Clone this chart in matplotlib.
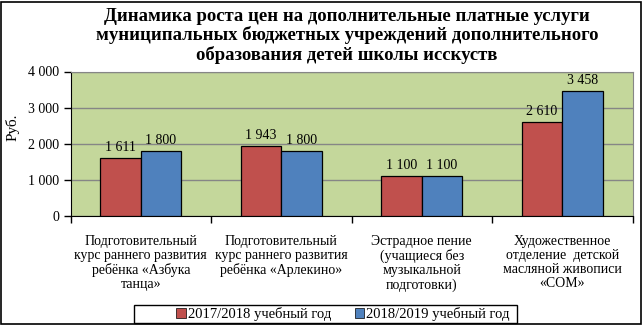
import matplotlib
matplotlib.use("Agg")
import matplotlib.pyplot as plt
from matplotlib.patches import Rectangle
import numpy as np

categories = [
    "Подготовительный\nкурс раннего развития\nребёнка «Азбука\nтанца»",
    "Подготовительный\nкурс раннего развития\nребёнка «Арлекино»",
    "Эстрадное пение\n(учащиеся без\nмузыкальной\nподготовки)",
    "Художественное\nотделение  детской\nмасляной живописи\n«СОМ»",
]
series_names = ["2017/2018 учебный год", "2018/2019 учебный год"]
values_2017 = [1611, 1943, 1100, 2610]
values_2018 = [1800, 1800, 1100, 3458]
y_ticks = [0, 1000, 2000, 3000, 4000]
y_tick_labels = ["0", "1 000", "2 000", "3 000", "4 000"]
title = ("Динамика роста цен на дополнительные платные услуги\n"
         "муниципальных бюджетных учреждений дополнительного\n"
         "образования детей школы исскуств")

plt.rcParams["font.family"] = ["Liberation Serif", "DejaVu Serif"]

W, H = 643, 325
fig = plt.figure(figsize=(W / 100, H / 100), dpi=100)
fig.patch.set_facecolor("white")

# outer frame of the chart
fig.add_artist(Rectangle((1 / W, 1 / H), (W - 3) / W, (H - 3) / H,
                         transform=fig.transFigure, fill=False,
                         edgecolor="black", linewidth=1.2))

ax = fig.add_axes([70.5 / W, 1 - 216 / H, (632.5 - 70.5) / W, (216 - 71.5) / H])
ax.set_facecolor("#C4D79B")

x = np.arange(len(categories))
bw = 0.288
ax.bar(x - bw / 2, values_2017, bw, color="#C0504D", edgecolor="black",
       linewidth=0.9, label=series_names[0], zorder=3)
ax.bar(x + bw / 2, values_2018, bw, color="#4F81BD", edgecolor="black",
       linewidth=0.9, label=series_names[1], zorder=3)

def fmt(v):
    return f"{v:,}".replace(",", " ")

for offs, vals in ((-bw / 2, values_2017), (bw / 2, values_2018)):
    for xi, v in zip(x + offs, vals):
        ax.annotate(fmt(v), (xi, v), xytext=(0, 3), textcoords="offset points",
                    ha="center", va="bottom", fontsize=10)

ax.set_xlim(-0.5, len(categories) - 0.5)
ax.set_ylim(0, 4000)
ax.set_yticks(y_ticks)
ax.set_yticklabels(y_tick_labels, fontsize=10)
ax.yaxis.grid(True, color="#868686", linewidth=1.0, zorder=0)
ax.set_axisbelow(True)

ax.set_xticks(np.arange(len(categories) + 1) - 0.5)
ax.set_xticklabels([])
ax.tick_params(axis="x", direction="out", length=5, width=1, color="black")
ax.tick_params(axis="y", direction="out", length=5, width=1, color="black", pad=3)
ax.set_xticks(x, minor=True)
ax.set_xticklabels(categories, minor=True, fontsize=10, linespacing=1.08,
                   va="top")
ax.tick_params(axis="x", which="minor", length=0, pad=14)

for side in ["top", "right"]:
    ax.spines[side].set_color("#868686")
for side in ["left", "bottom"]:
    ax.spines[side].set_color("black")

fig.text(13 / W, 1 - 127 / H, "Руб.", rotation=90, ha="center", va="center",
         fontsize=11)

fig.text(347 / W, 1 - 36 / H, title, ha="center", va="center",
         fontsize=13.5, fontweight="bold", linespacing=1.1)

# legend with a wide rectangular frame
fig.add_artist(Rectangle((134 / W, 1 - 323 / H), (517 - 134) / W, 18 / H,
                         transform=fig.transFigure, fill=False,
                         edgecolor="black", linewidth=1.0))
leg = fig.legend(loc="center", bbox_to_anchor=(343 / W, 1 - 314 / H),
                 ncol=2, fontsize=10.5, frameon=False,
                 handlelength=0.65, handleheight=0.65, handletextpad=0.15,
                 columnspacing=1.6, borderpad=0, borderaxespad=0)
for h in leg.legend_handles:
    h.set_linewidth(0.5)

fig.savefig("out.png", dpi=100)
